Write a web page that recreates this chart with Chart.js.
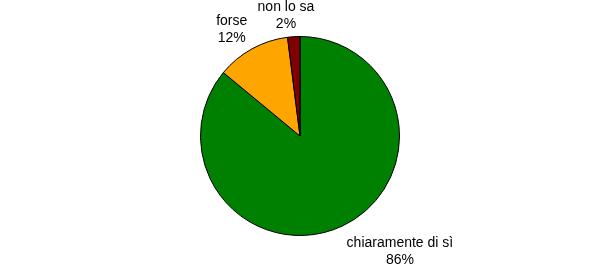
<!DOCTYPE html>
<html>
<head>
<meta charset="utf-8">
<script src="https://cdn.jsdelivr.net/npm/chart.js@4"></script>
<style>
  html, body { margin: 0; padding: 0; background: #fff; }
  #wrap { width: 600px; height: 264px; }
</style>
</head>
<body>
<div id="wrap"><canvas id="pieChart" width="600" height="264"></canvas></div>
<script>
// data
var categories = ['chiaramente di sì', 'forse', 'non lo sa']
var percents   = [86, 12, 2]
var colors     = ['#008000', '#FFA500', '#800000']

// labels outside the pie, placed along each slice's middle angle
var outerLabels = {
  id: 'outerLabels',
  afterDraw: function (chart) {
    var ctx = chart.ctx
    var meta = chart.getDatasetMeta(0)
    ctx.save()
    ctx.font = '14px "Liberation Sans", Arial, sans-serif'
    ctx.fillStyle = '#000'
    ctx.textBaseline = 'middle'
    ctx.textAlign = 'center'
    var lineH = 17
    meta.data.forEach(function (arc, i) {
      var mid = (arc.startAngle + arc.endAngle) / 2
      var r = arc.outerRadius * 1.1
      var ax = arc.x + Math.cos(mid) * r
      var ay = arc.y + Math.sin(mid) * r
      var lines = [categories[i], percents[i] + '%']
      var w = Math.max.apply(null, lines.map(function (l) { return ctx.measureText(l).width }))
      var h = lines.length * lineH
      var hj = Math.min(1, Math.max(0, 0.5 - 2 * Math.cos(mid)))
      var vj = Math.min(1, Math.max(0, 0.5 - 2 * Math.sin(mid))) * 0.82
      var left = ax - hj * w
      var top = ay - vj * h
      lines.forEach(function (l, k) {
        ctx.fillText(l, left + w / 2, top + lineH * k + lineH / 2)
      })
    })
    ctx.restore()
  }
}

var pieCanvas = document.getElementById('pieChart').getContext('2d')
var pieChart = new Chart(pieCanvas, {
  type: 'pie',
  data: {
    labels: categories,
    datasets: [{
      data: percents,
      backgroundColor: colors,
      borderColor: '#000',
      borderWidth: 1
    }]
  },
  options: {
    responsive: false,
    animation: false,
    layout: { padding: { top: 36, bottom: 28, left: 0, right: 0 } },
    plugins: {
      legend: { display: false },
      tooltip: { enabled: false }
    }
  },
  plugins: [outerLabels]
})
</script>
</body>
</html>
